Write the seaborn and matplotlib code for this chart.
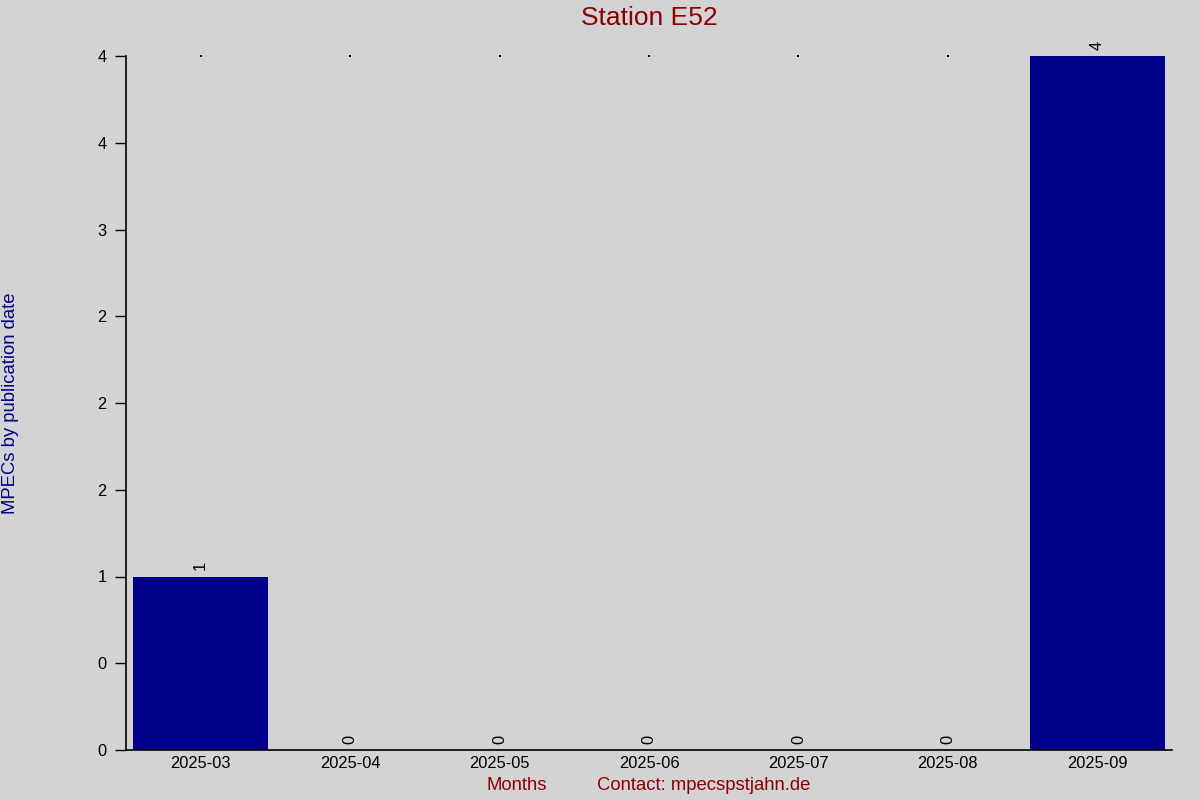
import matplotlib
matplotlib.use("Agg")
import matplotlib.pyplot as plt
import seaborn as sns
import numpy as np

months = ["2025-03", "2025-04", "2025-05", "2025-06", "2025-07", "2025-08", "2025-09"]
counts = [1, 0, 0, 0, 0, 0, 4]
yticks = [0, 0.5, 1, 1.5, 2, 2.5, 3, 3.5, 4]
title = "Station E52"
ylabel = "MPECs by publication date"
xlabel = "Months"
contact = "Contact: mpecspstjahn.de"

sns.set_theme(style="white")
plt.rcParams['font.family'] = ['Liberation Sans', 'DejaVu Sans']

bg = "#d3d3d3"
fig = plt.figure(figsize=(12, 8), dpi=100, facecolor=bg)
ax = fig.add_axes([126/1200, 50/800, (1172-126)/1200, (750-56)/800])
ax.set_facecolor(bg)

sns.barplot(x=months, y=counts, color="#00008b", saturation=1, width=0.9, ax=ax, order=months,
            linewidth=0, edgecolor="#00008b", zorder=2)

ax.set_xlim(-0.5, len(months) - 0.5)
ax.set_ylim(0, 4)

# tiny dots at the top of the value range, only where no bar reaches it
ymax = ax.get_ylim()[1]
dot_x = [i for i, v in enumerate(counts) if v < ymax]
ax.scatter(dot_x, [ymax] * len(dot_x), s=0.8, color='black', marker='s', linewidths=0,
           clip_on=False, zorder=0.5)

ax.set_yticks(yticks)
ax.set_yticklabels([str(round(v)) for v in yticks])
ax.tick_params(axis='y', length=8, width=1, color='black', labelsize=11.8, labelcolor='black', direction='out', left=True, pad=6)
ax.tick_params(axis='x', length=0, labelsize=11.8, labelcolor='black', pad=4)

for s in ['top', 'right']:
    ax.spines[s].set_visible(False)
for s in ['left', 'bottom']:
    ax.spines[s].set_color('black')
    ax.spines[s].set_linewidth(1.2)
    ax.spines[s].set_zorder(3)

# value labels
for i, v in enumerate(counts):
    ax.annotate(str(v), (i, v), xytext=(0, 4.5), textcoords='offset points', rotation=90,
                ha='center', va='bottom', fontsize=11.8, color='black', annotation_clip=False)

ax.set_xlabel("")
ax.set_ylabel("")
fig.text(649/1200, 1 - 18/800, title, ha='center', va='center', fontsize=19, color='#8b0000')
fig.text(11/1200, 1 - 403/800, ylabel, rotation=90, ha='center', va='center', fontsize=13.3, color='#00008b')
fig.text(517/1200, 1 - 786/800, xlabel, ha='center', va='center', fontsize=13.3, color='#8b0000')
fig.text(704/1200, 1 - 786/800, contact, ha='center', va='center', fontsize=13.3, color='#8b0000')

fig.savefig("out.png", dpi=100, facecolor=bg)
